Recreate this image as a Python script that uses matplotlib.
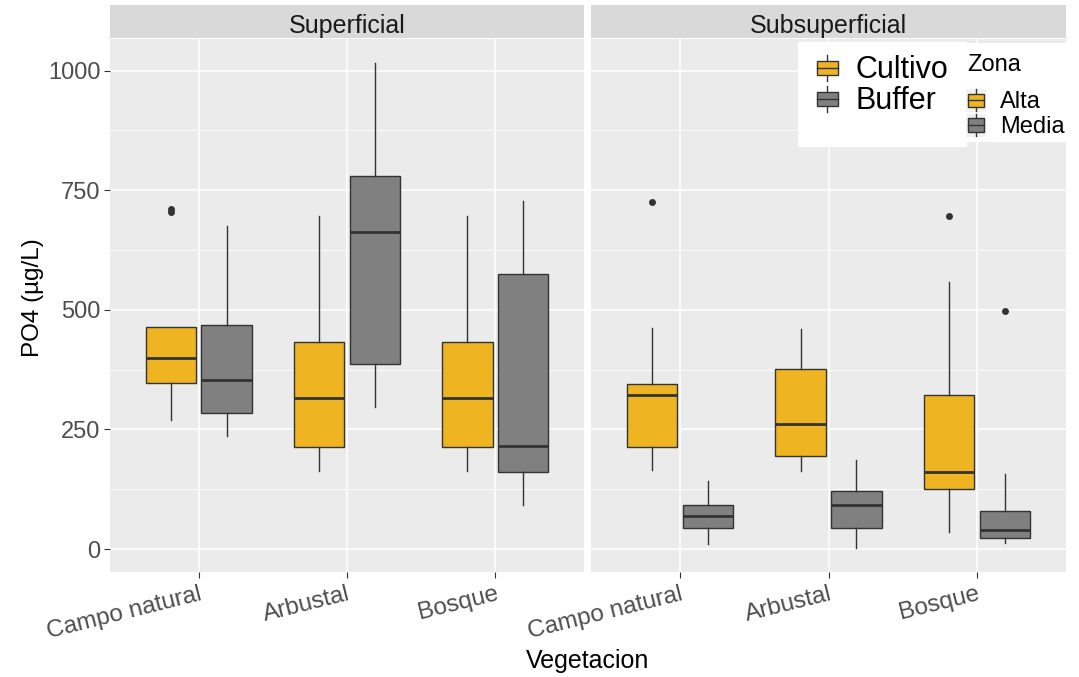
import matplotlib.pyplot as plt
from matplotlib.patches import Rectangle, Patch
from matplotlib.lines import Line2D
from matplotlib.legend_handler import HandlerBase

plt.rcParams['font.family'] = ['Liberation Sans', 'DejaVu Sans']

vegetacion = ['Campo natural', 'Arbustal', 'Bosque']
paneles = ['Superficial', 'Subsuperficial']
zonas = ['Alta', 'Media']
colores = {'Alta': '#EEB422', 'Media': '#808080'}

# box stats, one value per vegetacion
sup_alta_lo = [269, 164, 164]
sup_alta_q1 = [348, 213, 213]
sup_alta_med = [400, 316, 316]
sup_alta_q3 = [464, 432, 432]
sup_alta_hi = [464, 697, 697]
sup_alta_out = [[704, 710], [], []]

sup_media_lo = [237, 296, 91]
sup_media_q1 = [284, 387, 160]
sup_media_med = [353, 662, 215]
sup_media_q3 = [468, 780, 575]
sup_media_hi = [675, 1015, 728]
sup_media_out = [[], [], []]

sub_alta_lo = [165, 164, 36]
sub_alta_q1 = [214, 194, 126]
sub_alta_med = [321, 262, 160]
sub_alta_q3 = [344, 377, 322]
sub_alta_hi = [462, 460, 558]
sub_alta_out = [[726], [], [697]]

sub_media_lo = [10, 3, 12]
sub_media_q1 = [45, 43, 24]
sub_media_med = [68, 93, 40]
sub_media_q3 = [93, 122, 79]
sub_media_hi = [143, 187, 156]
sub_media_out = [[], [], [498]]

datos = {
    ('Superficial', 'Alta'): (sup_alta_lo, sup_alta_q1, sup_alta_med, sup_alta_q3, sup_alta_hi, sup_alta_out),
    ('Superficial', 'Media'): (sup_media_lo, sup_media_q1, sup_media_med, sup_media_q3, sup_media_hi, sup_media_out),
    ('Subsuperficial', 'Alta'): (sub_alta_lo, sub_alta_q1, sub_alta_med, sub_alta_q3, sub_alta_hi, sub_alta_out),
    ('Subsuperficial', 'Media'): (sub_media_lo, sub_media_q1, sub_media_med, sub_media_q3, sub_media_hi, sub_media_out),
}

W, H = 1079, 677
fig = plt.figure(figsize=(W / 100, H / 100), dpi=100)

def fx(px):
    return px / W

def fy(py):
    return 1 - py / H

panel_x = [(110, 584), (591, 1066)]
top, bottom = 39, 572
dark = '#333333'

for i, panel in enumerate(paneles):
    x0, x1 = panel_x[i]
    ax = fig.add_axes([fx(x0), fy(bottom), fx(x1 - x0), (bottom - top) / H])
    ax.set_facecolor('#EBEBEB')
    for s in ax.spines.values():
        s.set_visible(False)
    pos = list(range(1, len(vegetacion) + 1))
    for j, zona in enumerate(zonas):
        lo, q1, med, q3, hi, out = datos[(panel, zona)]
        stats = []
        for k in range(len(vegetacion)):
            stats.append(dict(whislo=lo[k], q1=q1[k], med=med[k], q3=q3[k], whishi=hi[k], fliers=out[k]))
        off = -0.1875 if j == 0 else 0.1875
        ax.bxp(stats, positions=[p + off for p in pos], widths=0.34, patch_artist=True,
               showcaps=False, manage_ticks=False,
               boxprops=dict(facecolor=colores[zona], edgecolor=dark, linewidth=1),
               medianprops=dict(color=dark, linewidth=2),
               whiskerprops=dict(color=dark, linewidth=1),
               flierprops=dict(marker='o', markerfacecolor=dark, markeredgecolor='none', markersize=5))
    ax.set_xlim(0.4, 3.6)
    ax.set_ylim(-48, 1066)
    ax.set_yticks([0, 250, 500, 750, 1000])
    ax.set_yticks([125, 375, 625, 875], minor=True)
    ax.set_xticks(pos)
    ax.set_xticklabels(vegetacion, rotation=14, ha='right', va='top', rotation_mode='anchor', fontsize=17.5)
    ax.grid(True, which='major', color='white', linewidth=1.1)
    ax.grid(True, which='minor', axis='y', color='white', linewidth=0.55)
    ax.set_axisbelow(True)
    ax.tick_params(which='major', length=4, color=dark, labelsize=17, labelcolor='#4D4D4D', pad=3)
    ax.tick_params(axis='x', labelsize=17.5, pad=4)
    ax.tick_params(which='minor', length=0)
    if i > 0:
        ax.tick_params(axis='y', left=False, labelleft=False)

    strip = fig.add_axes([fx(x0), fy(38), fx(x1 - x0), 33 / H])
    strip.set_facecolor('#D9D9D9')
    strip.set_xticks([])
    strip.set_yticks([])
    for s in strip.spines.values():
        s.set_visible(False)
    fig.text(fx((x0 + x1) / 2), fy(33), panel, ha='center', va='baseline', fontsize=18, color='#1A1A1A')

fig.text(fx(33), fy(298), 'PO4 (µg/L)', rotation=90, ha='center', va='center', fontsize=17.5)
fig.text(fx(588), fy(661), 'Vegetacion', ha='center', va='center', fontsize=18)


class BoxKey(HandlerBase):
    def __init__(self, bg=None, box=0.5):
        super().__init__()
        self.bg = bg
        self.box = box

    def create_artists(self, legend, orig_handle, xdescent, ydescent, width, height, fontsize, trans):
        x0, y0 = -xdescent, -ydescent
        arts = []
        if self.bg:
            arts.append(Rectangle((x0, y0), width, height, facecolor=self.bg, edgecolor='none', transform=trans))
        xm = x0 + width / 2
        b = self.box / 2
        arts.append(Line2D([xm, xm], [y0 + 0.02 * height, y0 + 0.98 * height], color=dark, lw=1, transform=trans))
        arts.append(Rectangle((x0 + 0.1 * width, y0 + (0.5 - b) * height), 0.8 * width, self.box * height,
                              facecolor=orig_handle.get_facecolor(), edgecolor=dark, lw=1, transform=trans))
        arts.append(Line2D([x0 + 0.1 * width, x0 + 0.9 * width], [y0 + 0.5 * height] * 2,
                           color=dark, lw=1, transform=trans))
        return arts


fig.patches.append(Rectangle((fx(798), fy(147)), fx(967 - 798), (147 - 42) / H, transform=fig.transFigure,
                             facecolor='white', edgecolor='none', zorder=5))
fig.patches.append(Rectangle((fx(967), fy(142)), fx(1079 - 967), (142 - 43) / H, transform=fig.transFigure,
                             facecolor='white', edgecolor='none', zorder=5))

h1 = [Patch(facecolor=colores['Alta']), Patch(facecolor=colores['Media'])]
leg1 = fig.legend(h1, ['Cultivo', 'Buffer'], loc='upper left', bbox_to_anchor=(fx(814), fy(54)),
                  frameon=False, fontsize=22, borderpad=0, labelspacing=0.0, handlelength=0.86,
                  handleheight=1.0, handletextpad=0.5, borderaxespad=0,
                  handler_map={Patch: BoxKey(box=0.52)})
leg1.set_zorder(6)

fig.text(fx(967), fy(65), 'Zona', ha='left', va='center', fontsize=17, zorder=7)
h2 = [Patch(facecolor=colores['Alta']), Patch(facecolor=colores['Media'])]
leg2 = fig.legend(h2, zonas, loc='upper left', bbox_to_anchor=(fx(966), fy(89)),
                  frameon=False, fontsize=17, borderpad=0, labelspacing=0.02, handlelength=0.85,
                  handleheight=1.1, handletextpad=0.6, borderaxespad=0,
                  handler_map={Patch: BoxKey(bg='#F2F2F2', box=0.6)})
leg2.set_zorder(6)

fig.savefig('out.png', dpi=100)
